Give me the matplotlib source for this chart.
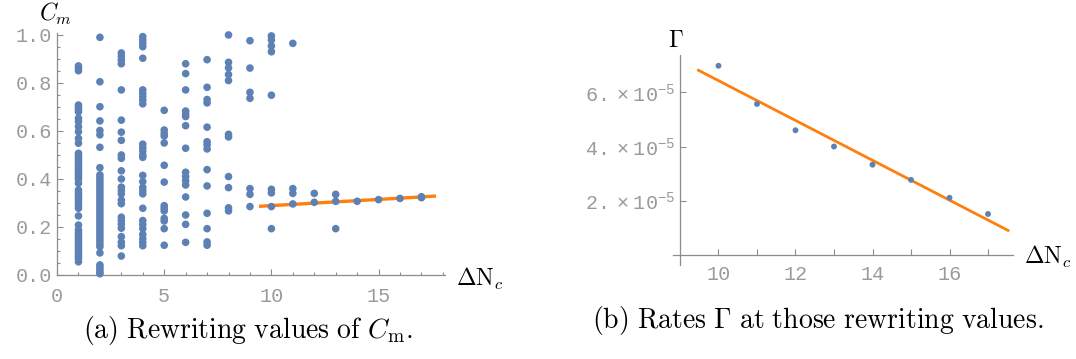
import matplotlib
matplotlib.use("Agg")
import matplotlib.pyplot as plt
import numpy as np
from matplotlib.ticker import MultipleLocator, FixedLocator

# --- data: rewriting values C_m per Delta N_c ---
cm_values = {
    1: [0.871, 0.861, 0.851, 0.708, 0.699, 0.690, 0.680, 0.653, 0.639, 0.618, 0.597,
        0.569, 0.549, 0.507, 0.497, 0.488, 0.478, 0.468, 0.458, 0.447, 0.437, 0.427,
        0.417, 0.408, 0.398, 0.382, 0.354, 0.343, 0.333, 0.322, 0.312, 0.301, 0.291,
        0.278, 0.246, 0.208, 0.188, 0.178, 0.168, 0.158, 0.148, 0.138, 0.128, 0.118,
        0.108, 0.098, 0.088, 0.078, 0.068, 0.055],
    2: [0.990, 0.805, 0.701, 0.642, 0.602, 0.584, 0.532, 0.447, 0.417, 0.405, 0.393,
        0.381, 0.369, 0.357, 0.345, 0.333, 0.321, 0.309, 0.297, 0.285, 0.273, 0.261,
        0.249, 0.237, 0.225, 0.213, 0.201, 0.189, 0.177, 0.165, 0.153, 0.141, 0.129,
        0.118, 0.092, 0.042, 0.032, 0.022, 0.012, 0.005],
    3: [0.925, 0.910, 0.895, 0.880, 0.771, 0.645, 0.595, 0.561, 0.500, 0.486, 0.434,
        0.400, 0.366, 0.352, 0.338, 0.312, 0.297, 0.241, 0.227, 0.212, 0.195, 0.160,
        0.137, 0.122, 0.079],
    4: [0.993, 0.979, 0.965, 0.951, 0.903, 0.771, 0.757, 0.743, 0.729, 0.713, 0.545,
        0.530, 0.516, 0.500, 0.490, 0.415, 0.389, 0.365, 0.352, 0.338, 0.278, 0.227,
        0.210, 0.193, 0.169, 0.151, 0.136, 0.122],
    5: [0.686, 0.604, 0.590, 0.579, 0.550, 0.457, 0.387, 0.289, 0.278, 0.267, 0.236,
        0.225, 0.193, 0.124],
    6: [0.880, 0.839, 0.771, 0.683, 0.671, 0.660, 0.622, 0.528, 0.428, 0.410, 0.393,
        0.375, 0.325, 0.250, 0.211, 0.136],
    7: [0.897, 0.782, 0.731, 0.717, 0.616, 0.555, 0.542, 0.525, 0.439, 0.371, 0.257,
        0.193, 0.138, 0.124],
    8: [1.000, 0.886, 0.863, 0.835, 0.810, 0.586, 0.575, 0.410, 0.364, 0.280, 0.267],
    9: [0.976, 0.862, 0.761, 0.736, 0.360, 0.336, 0.285],
    10: [0.996, 0.979, 0.954, 0.930, 0.749, 0.357, 0.342, 0.285, 0.193],
    11: [0.965, 0.360, 0.340, 0.296],
    12: [0.340, 0.303],
    13: [0.336, 0.307, 0.193],
    14: [0.307],
    15: [0.314],
    16: [0.319],
    17: [0.326, 0.322],
}

# lowest branch used for the linear fit in panel (a)
fit_n = [10, 11, 12, 13, 14, 15, 16, 17]
fit_cm = [0.285, 0.296, 0.303, 0.307, 0.307, 0.314, 0.319, 0.326]

# --- data: rates Gamma ---
rate_n = [10, 11, 12, 13, 14, 15, 16, 17]
rate_gamma = [6.98e-5, 5.57e-5, 4.60e-5, 4.00e-5, 3.33e-5, 2.77e-5, 2.11e-5, 1.51e-5]

BLUE = "#5e81b5"
ORANGE = "#ff7f0e"
GRAY = "#8c8c8c"
LABEL_GRAY = "#9a9a9a"

plt.rcParams["mathtext.fontset"] = "custom"
plt.rcParams["mathtext.rm"] = "Liberation Mono"
plt.rcParams["font.family"] = "Liberation Mono"

fig = plt.figure(figsize=(10.76, 3.59), dpi=100)


def style_axes(ax):
    for side in ("top", "right"):
        ax.spines[side].set_visible(False)
    for side in ("left", "bottom"):
        ax.spines[side].set_color(GRAY)
        ax.spines[side].set_linewidth(0.9)
    ax.tick_params(which="both", direction="in", colors=GRAY, labelcolor=LABEL_GRAY,
                   labelsize=14.5, width=0.8)
    ax.tick_params(which="major", length=4)
    ax.tick_params(which="minor", length=2.5)


# ---------------- panel (a) ----------------
ax1 = fig.add_axes([0.053, 0.234, 0.3606, 0.674])
xs, ys = [], []
for n, vals in cm_values.items():
    xs += [n] * len(vals)
    ys += vals
ax1.scatter(xs, ys, s=30, color=BLUE, edgecolors="none", zorder=3, clip_on=False)

coef = np.polyfit(fit_n, fit_cm, 1)
xl = np.array([9.5, 17.6])
ax1.plot(xl, np.polyval(coef, xl), color=ORANGE, lw=2.4, zorder=2)

ax1.set_xlim(0, 18.1)
ax1.set_ylim(0, 1.008)
ax1.xaxis.set_major_locator(FixedLocator([0, 5, 10, 15]))
ax1.xaxis.set_minor_locator(MultipleLocator(1))
ax1.yaxis.set_major_locator(FixedLocator([0, 0.2, 0.4, 0.6, 0.8, 1.0]))
ax1.yaxis.set_minor_locator(MultipleLocator(0.05))
ax1.set_yticklabels(["0.0", "0.2", "0.4", "0.6", "0.8", "1.0"])
ax1.set_xticklabels(["0", "5", "10", "15"])
style_axes(ax1)
ax1.tick_params(axis="x", pad=9)

fig.text(0.036, 0.96, r"$C_m$", fontsize=17, math_fontfamily="cm", va="center", ha="left")
fig.text(0.424, 0.222, r"$\Delta\mathrm{N}_c$", fontsize=17, math_fontfamily="cm",
         va="center", ha="left")
fig.text(0.2305, 0.08, r"$\mathrm{(a)\ Rewriting\ values\ of\ }C_{\mathrm{m}}\mathrm{.}$",
         fontsize=20, math_fontfamily="cm", ha="center", va="center")

# ---------------- panel (b) ----------------
ax2 = fig.add_axes([0.6255, 0.262, 0.316, 0.585])
ax2.scatter(rate_n, rate_gamma, s=18, color=BLUE, edgecolors="none", zorder=3)
coef2 = np.polyfit(rate_n, rate_gamma, 1)
xl2 = np.array([9.48, 17.52])
ax2.plot(xl2, np.polyval(coef2, xl2), color=ORANGE, lw=2.0, zorder=2)

ax2.set_xlim(8.82, 17.65)
ax2.set_ylim(-0.37e-5, 7.38e-5)
ax2.spines["left"].set_position(("data", 9))
ax2.spines["bottom"].set_position(("data", 0))
ax2.xaxis.set_major_locator(FixedLocator([10, 12, 14, 16]))
ax2.xaxis.set_minor_locator(FixedLocator([11, 13, 15, 17]))
ax2.set_xticklabels(["10", "12", "14", "16"])
ax2.yaxis.set_major_locator(FixedLocator([2e-5, 4e-5, 6e-5]))
ax2.set_yticklabels([r"$2.\times10^{-5}$", r"$4.\times10^{-5}$", r"$6.\times10^{-5}$"])
style_axes(ax2)
ax2.tick_params(axis="x", which="minor", length=4)
ax2.tick_params(axis="x", pad=7)

fig.text(0.628, 0.888, r"$\Gamma$", fontsize=17, math_fontfamily="cm", va="center", ha="center")
fig.text(0.952, 0.285, r"$\Delta\mathrm{N}_c$", fontsize=17, math_fontfamily="cm",
         va="center", ha="left")
fig.text(0.760, 0.108, r"$\mathrm{(b)\ Rates\ }\Gamma\mathrm{\ at\ those\ rewriting\ values.}$",
         fontsize=20, math_fontfamily="cm", ha="center", va="center")

fig.savefig("out.png", dpi=100)
